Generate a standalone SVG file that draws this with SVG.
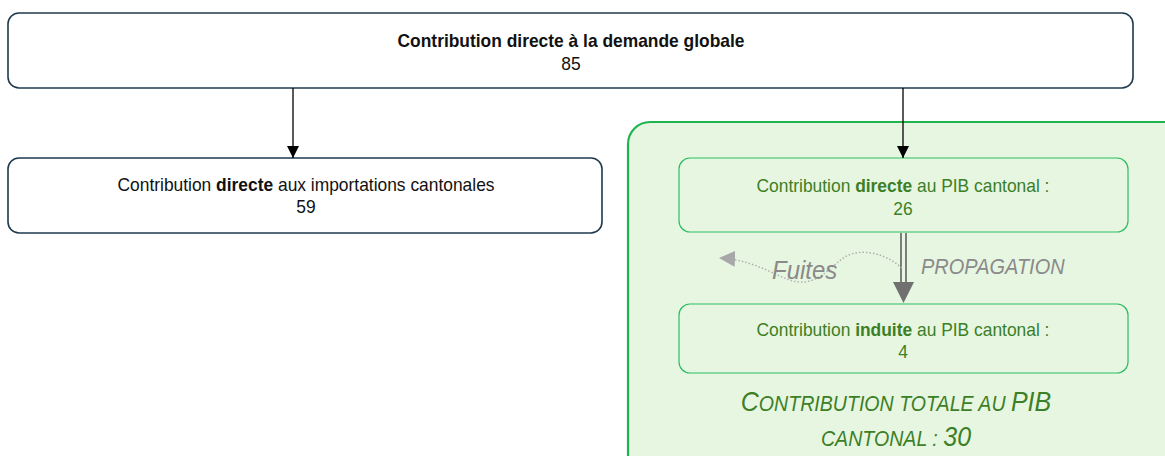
<svg xmlns="http://www.w3.org/2000/svg" width="1165" height="456" viewBox="0 0 1165 456">
<style>
text{font-family:"Liberation Sans",Arial,sans-serif;}
.box{fill:#fff;stroke:#1f3a4d;stroke-width:1.6;}
.t{font-size:17.4px;fill:#111;text-anchor:middle;}
.g{font-size:17.4px;fill:#3c7f26;text-anchor:middle;}
.b{font-weight:bold;}
.ibox{fill:#e7f6e1;stroke:#2bbd62;stroke-width:1.2;}
.conn{stroke:#000;stroke-width:1.3;fill:none;}
</style>
<defs>
<marker id="ah" viewBox="0 0 10 10" refX="10" refY="5" markerWidth="12" markerHeight="12" markerUnits="userSpaceOnUse" orient="auto"><path d="M0,0 L10,5 L0,10 z" fill="#000"/></marker>
<marker id="ahg" viewBox="0 0 10 10" refX="10" refY="5" markerWidth="16" markerHeight="16" markerUnits="userSpaceOnUse" orient="auto"><path d="M0,0 L10,5 L0,10 z" fill="#a8a8a8"/></marker>
</defs>
<g id="container">
<rect x="628" y="122" width="560" height="360" rx="22" fill="#e7f6e1" stroke="#20b450" stroke-width="2.2"/>
</g>
<g id="top">
<rect class="box" x="8" y="13" width="1125" height="75" rx="11"/>
<text class="t b" transform="translate(571,47) scale(1,1.1)">Contribution directe à la demande globale</text>
<text class="t" transform="translate(571,70) scale(1,1.1)">85</text>
</g>
<g id="imports">
<rect class="box" x="8" y="158" width="594" height="75" rx="11"/>
<text class="t" transform="translate(306,191) scale(1,1.1)">Contribution <tspan class="b">directe</tspan> aux importations cantonales</text>
<text class="t" transform="translate(306,213) scale(1,1.1)">59</text>
</g>
<g id="direct">
<rect class="ibox" x="679" y="158" width="449" height="74" rx="11"/>
<text class="g" transform="translate(903,192) scale(1,1.1)">Contribution <tspan class="b">directe</tspan> au PIB cantonal :</text>
<text class="g" transform="translate(903,215) scale(1,1.1)">26</text>
</g>
<g id="induite">
<rect class="ibox" x="679" y="304" width="449" height="69" rx="11"/>
<text class="g" transform="translate(903,336) scale(1,1.1)">Contribution <tspan class="b">induite</tspan> au PIB cantonal :</text>
<text class="g" transform="translate(903,358) scale(1,1.1)">4</text>
</g>
<g id="total">
<text text-anchor="middle" transform="translate(896,411) scale(1,1.1)" fill="#3c7f26" font-style="italic" font-size="19.6"><tspan font-size="25">C</tspan>ONTRIBUTION TOTALE AU <tspan font-size="25">PIB</tspan></text>
<text text-anchor="middle" transform="translate(896,446) scale(1,1.1)" fill="#3c7f26" font-style="italic" font-size="19.6">CANTONAL : <tspan font-size="25">30</tspan></text>
</g>
<g id="connectors">
<line class="conn" x1="293" y1="88" x2="293" y2="158" marker-end="url(#ah)"/>
<line class="conn" x1="903" y1="88" x2="903" y2="158" marker-end="url(#ah)"/>
<line x1="901" y1="233" x2="901" y2="285" stroke="#707070" stroke-width="1.8"/>
<line x1="906" y1="233" x2="906" y2="285" stroke="#707070" stroke-width="1.8"/>
<path d="M893,282 L914,282 L903.5,303 z" fill="#707070"/>
<path d="M902,268 C890,258 875,250 855,253 C835,257 825,283 800,282 C780,281 760,260 719,258" fill="none" stroke="#b0b0b0" stroke-width="1.5" stroke-dasharray="1.5,2" marker-end="url(#ahg)"/>
<text transform="translate(772,279) scale(1,1.1)" font-size="24" font-style="italic" fill="#8a8a8a">Fuites</text>
<text transform="translate(921,274) scale(1,1.1)" font-size="20" font-style="italic" fill="#8a8a8a">PROPAGATION</text>
</g>
</svg>
